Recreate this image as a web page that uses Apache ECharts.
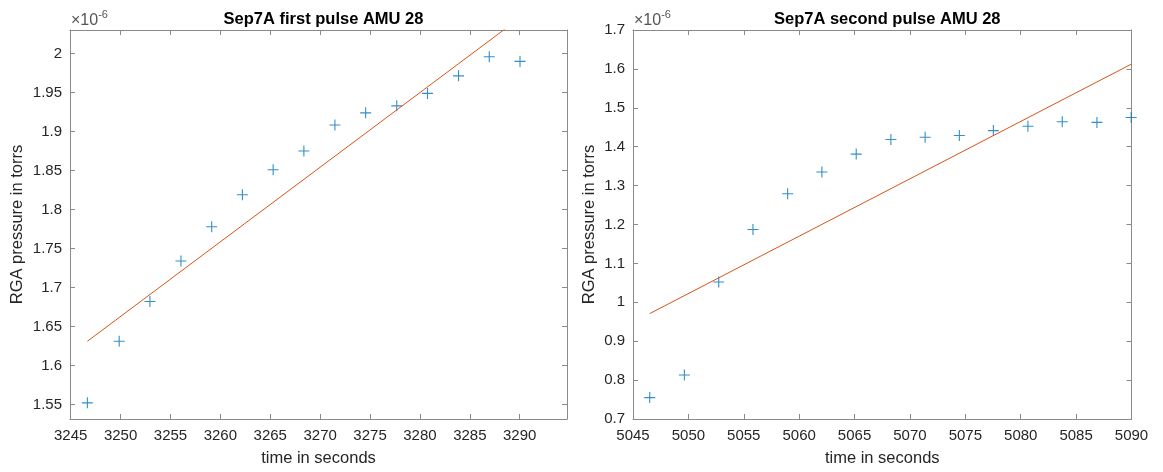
<!DOCTYPE html>
<html>
<head>
<meta charset="utf-8">
<script src="https://cdn.jsdelivr.net/npm/echarts@6/dist/echarts.min.js"></script>
<style>
html,body{margin:0;padding:0;background:#fff;}
#chart{width:1163px;height:472px;}
</style>
</head>
<body>
<div id="chart"></div>
<script>
// Values in units of 1e-6 torr (axis shows ×10^-6)
const leftTimes = [3246.67, 3249.86, 3252.94, 3256.05, 3259.13, 3262.21, 3265.29, 3268.37, 3271.48, 3274.56, 3277.68, 3280.76, 3283.87, 3286.95, 3290.03];
const leftPressure = [1.552, 1.631, 1.682, 1.734, 1.778, 1.819, 1.851, 1.875, 1.9085, 1.924, 1.933, 1.949, 1.9715, 1.996, 1.990];
const leftFitTimes = [3246.67, 3290.03];
const leftFitValues = [1.631, 2.046];

const rightTimes = [5046.51, 5049.64, 5052.74, 5055.83, 5058.96, 5062.05, 5065.15, 5068.28, 5071.37, 5074.46, 5077.53, 5080.65, 5083.75, 5086.88, 5089.97];
const rightPressure = [0.755, 0.813, 1.052, 1.187, 1.279, 1.335, 1.381, 1.4185, 1.4244, 1.4287, 1.4414, 1.4524, 1.4643, 1.4625, 1.4752];
const rightFitTimes = [5046.51, 5089.97];
const rightFitValues = [0.971, 1.612];

const leftXTicks = [3245, 3250, 3255, 3260, 3265, 3270, 3275, 3280, 3285, 3290];
const leftYTicks = [1.55, 1.6, 1.65, 1.7, 1.75, 1.8, 1.85, 1.9, 1.95, 2];
const rightXTicks = [5045, 5050, 5055, 5060, 5065, 5070, 5075, 5080, 5085, 5090];
const rightYTicks = [0.7, 0.8, 0.9, 1, 1.1, 1.2, 1.3, 1.4, 1.5, 1.6, 1.7];

const titles = ['Sep7A first pulse AMU 28', 'Sep7A second pulse AMU 28'];
const xName = 'time in seconds';
const yName = 'RGA pressure in torrs';

const FONT = 'Liberation Sans, Arial, sans-serif';
const AXC = '#8a8a8a';
const TXC = '#262626';
const PLUS = 'path://M0,5L10,5M5,0L5,10';

function zip(a, b) { return a.map((v, i) => [v, b[i]]); }
function fmt(v) { return String(Math.round(v * 1000) / 1000); }

const ranges = [
  {xmin: 3244.93, xmax: 3294.74, ymin: 1.5313, ymax: 2.0303, xt: leftXTicks, yt: leftYTicks, yGap: 44},
  {xmin: 5045, xmax: 5090, ymin: 0.7, ymax: 1.7, xt: rightXTicks, yt: rightYTicks, yGap: 35}
];

const grids = [
  {left: 70, top: 30, width: 497, height: 392.7},
  {left: 633, top: 30, width: 498.5, height: 392.7}
];

const xAxes = [], yAxes = [];
ranges.forEach((r, g) => {
  xAxes.push({
    type: 'value', gridIndex: g, position: 'bottom', min: r.xmin, max: r.xmax,
    name: xName, nameLocation: 'middle', nameGap: 31,
    nameTextStyle: {fontFamily: FONT, fontSize: 16.5, color: TXC},
    axisLine: {show: true, onZero: false, lineStyle: {color: AXC, width: 1}},
    axisTick: {show: true, inside: true, length: 5, customValues: r.xt, lineStyle: {color: AXC}},
    axisLabel: {show: true, customValues: r.xt, margin: 9, fontFamily: FONT, fontSize: 15, color: TXC,
      formatter: fmt, showMinLabel: true, showMaxLabel: true},
    splitLine: {show: false}
  });
  xAxes.push({
    type: 'value', gridIndex: g, position: 'top', min: r.xmin, max: r.xmax,
    axisLine: {show: true, onZero: false, lineStyle: {color: AXC, width: 1}},
    axisTick: {show: true, inside: true, length: 5, customValues: r.xt, lineStyle: {color: AXC}},
    axisLabel: {show: false}, splitLine: {show: false}
  });
  yAxes.push({
    type: 'value', gridIndex: g, position: 'left', min: r.ymin, max: r.ymax,
    name: yName, nameLocation: 'middle', nameGap: r.yGap,
    nameTextStyle: {fontFamily: FONT, fontSize: 16.5, color: TXC},
    axisLine: {show: true, onZero: false, lineStyle: {color: AXC, width: 1}},
    axisTick: {show: true, inside: true, length: 5, customValues: r.yt, lineStyle: {color: AXC}},
    axisLabel: {show: true, customValues: r.yt, margin: 8, fontFamily: FONT, fontSize: 15, color: TXC,
      formatter: fmt, showMinLabel: true, showMaxLabel: true},
    splitLine: {show: false}
  });
  yAxes.push({
    type: 'value', gridIndex: g, position: 'right', min: r.ymin, max: r.ymax,
    axisLine: {show: true, onZero: false, lineStyle: {color: AXC, width: 1}},
    axisTick: {show: true, inside: true, length: 5, customValues: r.yt, lineStyle: {color: AXC}},
    axisLabel: {show: false}, splitLine: {show: false}
  });
});

const scatterStyle = {color: 'rgba(0,0,0,0)', borderColor: '#0072BD', borderWidth: 1.1};
const series = [
  {type: 'scatter', xAxisIndex: 0, yAxisIndex: 0, data: zip(leftTimes, leftPressure),
   symbol: PLUS, symbolSize: 11, itemStyle: scatterStyle, silent: true},
  {type: 'line', xAxisIndex: 0, yAxisIndex: 0, data: zip(leftFitTimes, leftFitValues),
   symbol: 'none', clip: true, lineStyle: {color: '#D95319', width: 1}, silent: true},
  {type: 'scatter', xAxisIndex: 2, yAxisIndex: 2, data: zip(rightTimes, rightPressure),
   symbol: PLUS, symbolSize: 11, itemStyle: scatterStyle, silent: true},
  {type: 'line', xAxisIndex: 2, yAxisIndex: 2, data: zip(rightFitTimes, rightFitValues),
   symbol: 'none', clip: true, lineStyle: {color: '#D95319', width: 1}, silent: true}
];

const chart = echarts.init(document.getElementById('chart'), null, {renderer: 'canvas'});
chart.setOption({
  animation: false,
  backgroundColor: '#ffffff',
  title: titles.map((t, i) => ({
    text: t, left: grids[i].left + grids[i].width / 2, top: 6, textAlign: 'center',
    textStyle: {fontFamily: FONT, fontSize: 16.5, fontWeight: 'bold', color: '#000'}
  })),
  grid: grids,
  xAxis: xAxes,
  yAxis: yAxes,
  series: series,
  graphic: grids.map(g => ({
    type: 'text', left: g.left + 1, top: 6,
    style: {
      text: '{a|×10}{b|-6}',
      rich: {
        a: {fontFamily: FONT, fontSize: 16, fill: '#555', verticalAlign: 'bottom', lineHeight: 20, padding: [7, 0, 0, 0]},
        b: {fontFamily: FONT, fontSize: 11, fill: '#555', verticalAlign: 'top', lineHeight: 20}
      }
    }
  }))
});
</script>
</body>
</html>
